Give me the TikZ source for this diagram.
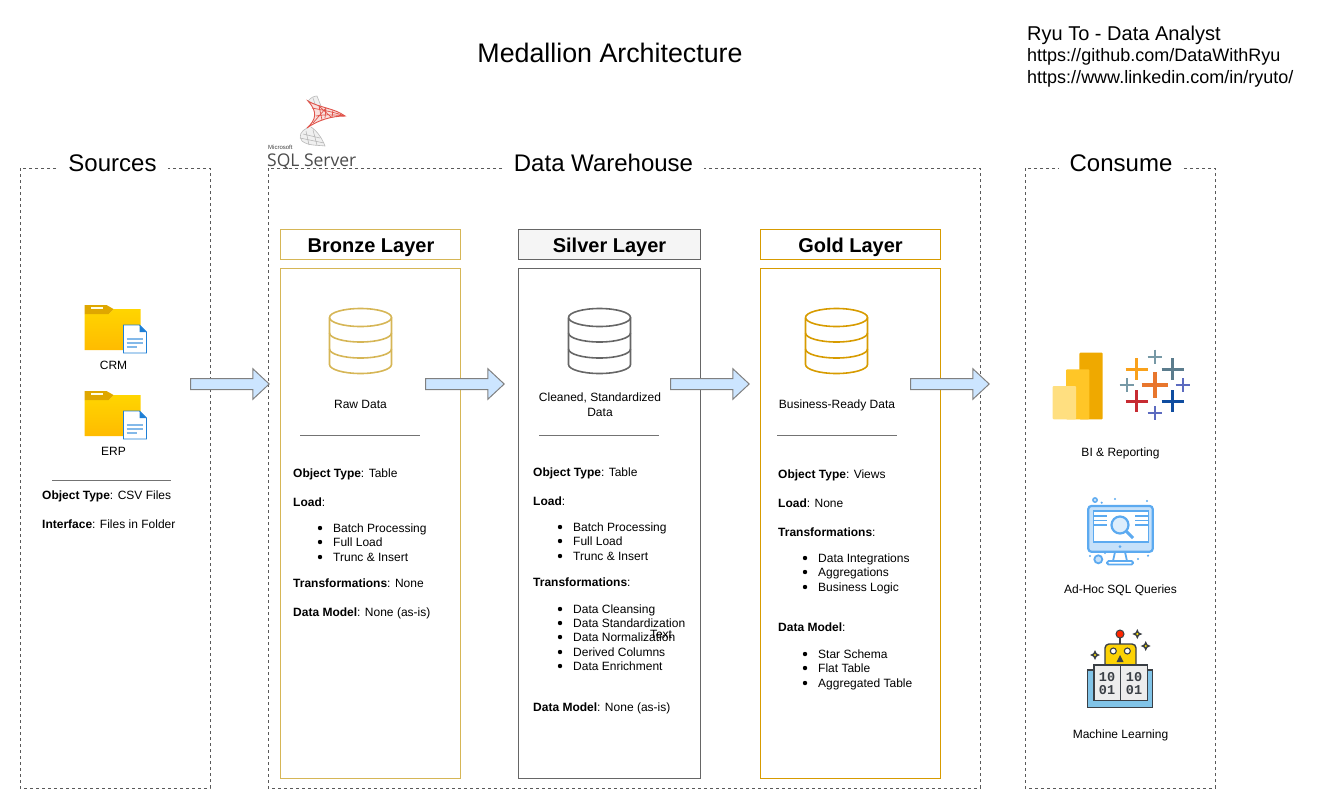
\documentclass[tikz,border=0pt]{standalone}
\usepackage{fontspec}
\setmainfont{Liberation Sans}
\setmonofont{Liberation Mono}
\newfontfamily\sqlfont{Open Sans}
\usepackage{tikz}
\usetikzlibrary{shapes.arrows}

\definecolor{bronzeline}{HTML}{D6B656}
\definecolor{silverline}{HTML}{666666}
\definecolor{goldline}{HTML}{D79B00}
\definecolor{arrowfill}{HTML}{CCE5FF}
\definecolor{monitorblue}{HTML}{5CAAF0}
\definecolor{iconink}{HTML}{3A3F45}
\definecolor{sqlred}{HTML}{E0534A}

\tikzset{
  txt/.style={anchor=base west, inner sep=0pt, font=\fontsize{12}{14}\selectfont},
  lbl/.style={anchor=base, inner sep=0pt, font=\fontsize{12}{14}\selectfont},
  group/.style={draw=black!65, line width=0.7pt, dash pattern=on 3pt off 3pt},
  grouptitle/.style={fill=white, inner xsep=11pt, inner ysep=2pt, font=\fontsize{24}{28}\selectfont},
  layertitle/.style={anchor=base, inner sep=0pt, font=\bfseries\fontsize{20}{24}\selectfont},
  rulerline/.style={draw=black!55, line width=0.8pt},
  bullet/.style={circle, fill=black, inner sep=0pt, minimum size=4.4pt},
  flow/.style={single arrow, draw=black!50, fill=arrowfill, line width=1pt, inner xsep=0pt, inner ysep=5pt,
    minimum height=78.5pt, minimum width=30pt, single arrow head extend=9.7pt,
    single arrow tip angle=86, single arrow head indent=0pt},
  % cylinder of a layer, origin in the middle of its top ellipse
  pics/dbicon/.style={code={
    \begin{scope}[line width=1.6pt]
      \draw[#1] (-31,0) arc[start angle=180, end angle=540, x radius=31, y radius=9];
      \draw[#1] (-31,0) -- (-31,47) arc[start angle=180, end angle=0, x radius=31, y radius=9] -- (31,0);
      \draw[#1] (-31,15.5) arc[start angle=180, end angle=0, x radius=31, y radius=9];
      \draw[#1] (-31,31.5) arc[start angle=180, end angle=0, x radius=31, y radius=9];
    \end{scope}
  }},
  % folder with a document on it, origin at the top left of the folder
  pics/foldericon/.style={code={
    \shade[top color=folderhigh, bottom color=folderlow]
      (0,9) -- (24,9) -- (29,4) -- (56,4) -- (56,45) -- (0,45) -- cycle;
    \fill[foldertab] (0,0) -- (22,0) -- (29,4) -- (24,9) -- (0,9) -- cycle;
    \fill[white!90!yellow] (6,2.2) rectangle (18,4);
    \draw[docblue, line width=0.9pt, fill=white]
      (39,20) -- (55,20) -- (62,27) -- (62,48) -- (39,48) -- cycle;
    \fill[docblue] (55,20) -- (62,27) -- (55,27) -- cycle;
    \foreach \k/\w in {34/58, 38/58, 42/52}
      \draw[docblue!55, line width=1.3pt] (42,\k) -- (\w,\k);
  }},
}
\definecolor{folderhigh}{HTML}{FFD500}
\definecolor{folderlow}{HTML}{FFBB00}
\definecolor{foldertab}{HTML}{DFA700}
\definecolor{docblue}{HTML}{1E7FD6}

\newcommand{\plusmark}[5]{\draw[color=#4, line width=#5pt] (#1-#3,#2) -- (#1+#3,#2) (#1,#2-#3) -- (#1,#2+#3);}
\newcommand{\sparkle}[2]{\fill[iconink] (#1,#2-5) -- (#1+1.6,#2-1.6) -- (#1+5,#2) -- (#1+1.6,#2+1.6) -- (#1,#2+5) -- (#1-1.6,#2+1.6) -- (#1-5,#2) -- (#1-1.6,#2-1.6) -- cycle;
  \fill[yellow!85!orange] (#1,#2) circle (1.2);}

\begin{document}
\begin{tikzpicture}[x=1pt, y=-1pt]
  \useasboundingbox (0,0) rectangle (1321,809);

  % headings
  \node[inner sep=0pt, font=\fontsize{26.8}{30}\selectfont] (title) at (610,53) {Medallion Architecture};
  \node[txt, font=\fontsize{20}{24}\selectfont] (author) at (1027,40) {Ryu To - Data Analyst};
  \node[txt, font=\fontsize{18}{22}\selectfont] (github) at (1027,61) {https://github.com/DataWithRyu};
  \node[txt, font=\fontsize{18}{22}\selectfont] (linkedin) at (1027,83) {https://www.linkedin.com/in/ryuto/};

  % dashed groups
  \draw[group] (20,168) rectangle (210,788);
  \draw[group] (268,168) rectangle (980,788);
  \draw[group] (1025,168) rectangle (1215,788);
  \node[grouptitle] (sources) at (112.5,163) {Sources};
  \node[grouptitle] (warehouse) at (603.5,163) {Data Warehouse};
  \node[grouptitle] (consume) at (1121,163) {Consume};

  % sql server logo
  \fill[black!6] (308,101) .. controls (311,97) and (315,96) .. (317,96) -- (321,106) -- (318,112) -- cycle;
  \draw[black!28, line width=0.6pt] (308,101) .. controls (311,97) and (315,96) .. (317,96) -- (321,106)
    (308,101) -- (318,112) (313,98) -- (316,107);
  \fill[black!6] (307,128) .. controls (301,131) and (298,136) .. (302,141) .. controls (308,146) and (318,145) .. (325,146)
    .. controls (322,138) and (317,131) .. (311,127) -- cycle;
  \draw[black!28, line width=0.6pt] (307,128) .. controls (301,131) and (298,136) .. (302,141) .. controls (308,146) and (318,145) .. (325,146)
    .. controls (322,138) and (317,131) .. (311,127)
    (303,134) -- (320,138) (300,138) -- (324,143) (306,131) -- (309,145) (313,130) -- (317,145);
  \fill[sqlred!18] (308,101) .. controls (320,108) and (334,108) .. (345,116)
    .. controls (332,116) and (318,120) .. (307,128) .. controls (316,120) and (318,112) .. (308,101) -- cycle;
  \draw[sqlred, line width=0.9pt] (308,101) .. controls (320,108) and (334,108) .. (345,116)
    .. controls (332,116) and (318,120) .. (307,128) .. controls (316,120) and (318,112) .. (308,101) -- cycle;
  \draw[sqlred, line width=0.7pt] (312,108) .. controls (322,110) and (334,112) .. (345,116)
    (316,116) .. controls (326,114) and (336,115) .. (345,116)
    (319,106) -- (322,120) (326,108) -- (325,118) (333,110) -- (332,117) (319,106) -- (331,117) (326,108) -- (313,123);
  \node[txt, font=\fontsize{6}{7}\selectfont, text=black!75] (sqlvendor) at (268,149.5) {Microsoft};
  \node[txt, font=\sqlfont\fontsize{17.5}{20}\selectfont, text=black!70] (sqlname) at (267,166) {SQL Server};

  % sources
  \pic at (84.5,305) {foldericon};
  \pic at (84.5,391) {foldericon};
  \node[lbl] (crm) at (113.5,369) {CRM};
  \node[lbl] (erp) at (113.5,455) {ERP};
  \draw[rulerline] (52,480) -- (171,480);
  \node[txt] (srctype) at (42,499) {\textbf{Object Type}: CSV Files};
  \node[txt] (srciface) at (42,528) {\textbf{Interface}: Files in Folder};

  % bronze layer
  \draw[bronzeline, line width=1pt] (280,229) rectangle (460,259);
  \draw[bronzeline, line width=1pt] (280,268) rectangle (460,778);
  \node[layertitle] (bronze) at (371,252) {Bronze Layer};
  \pic at (360.5,317.5) {dbicon=bronzeline};
  \node[lbl] (bronzeinfo) at (360.5,408) {Raw Data};
  \draw[rulerline] (300,435) -- (420,435);
  \node[txt] (bronzetype) at (293,477) {\textbf{Object Type}: Table};
  \node[txt] (bronzeload) at (293,506) {\textbf{Load}:};
  \foreach \y/\t in {528/Batch Processing, 542/Full Load, 557/Trunc \& Insert} {
    \node[bullet] (bronzedot\y) at (320,\y) {};
    \node[txt] (bronzeitem\y) at (333,\y+4) {\t};
  }
  \node[txt] (bronzetrans) at (293,587) {\textbf{Transformations}: None};
  \node[txt] (bronzemodel) at (293,616) {\textbf{Data Model}: None (as-is)};

  % silver layer
  \draw[silverline, line width=1pt, fill=black!4] (518,229) rectangle (700,259);
  \draw[silverline, line width=1pt] (518,268) rectangle (700,778);
  \node[layertitle] (silver) at (609.5,252) {Silver Layer};
  \pic at (599.5,317.5) {dbicon=silverline};
  \node[lbl] (silverinfo) at (600,401) {Cleaned, Standardized};
  \node[lbl] (silverinfob) at (600,416) {Data};
  \draw[rulerline] (539,435) -- (659,435);
  \node[txt] (silvertype) at (533,476) {\textbf{Object Type}: Table};
  \node[txt] (silverload) at (533,505) {\textbf{Load}:};
  \foreach \y/\t in {527/Batch Processing, 541/Full Load, 556/Trunc \& Insert,
                     609/Data Cleansing, 623/Data Standardization, 637/Data Normalization,
                     652/Derived Columns, 666/Data Enrichment} {
    \node[bullet] (silverdot\y) at (560,\y) {};
    \node[txt] (silveritem\y) at (573,\y+4) {\t};
  }
  \node[txt] (silvertrans) at (533,586) {\textbf{Transformations}:};
  \node[lbl] (stray) at (661,638) {Text};
  \node[txt] (silvermodel) at (533,711) {\textbf{Data Model}: None (as-is)};

  % gold layer
  \draw[goldline, line width=1pt] (760,229) rectangle (940,259);
  \draw[goldline, line width=1pt] (760,268) rectangle (940,778);
  \node[layertitle] (gold) at (850.5,252) {Gold Layer};
  \pic at (836.5,317.5) {dbicon=goldline};
  \node[lbl] (goldinfo) at (837,408) {Business-Ready Data};
  \draw[rulerline] (777,435) -- (897,435);
  \node[txt] (goldtype) at (778,478) {\textbf{Object Type}: Views};
  \node[txt] (goldload) at (778,507) {\textbf{Load}: None};
  \node[txt] (goldtrans) at (778,536) {\textbf{Transformations}:};
  \node[txt] (goldmodel) at (778,631) {\textbf{Data Model}:};
  \foreach \y/\t in {558/Data Integrations, 572/Aggregations, 587/Business Logic,
                     654/Star Schema, 668/Flat Table, 683/Aggregated Table} {
    \node[bullet] (golddot\y) at (805,\y) {};
    \node[txt] (golditem\y) at (818,\y+4) {\t};
  }

  % flow arrows
  \node[flow] (flowa) at (227,384) {};
  \node[flow] (flowb) at (462,384) {};
  \node[flow] (flowc) at (707,384) {};
  \node[flow] (flowd) at (947,384) {};

  % power bi
  \definecolor{bitall}{HTML}{EFA900}
  \definecolor{bimid}{HTML}{FFC627}
  \definecolor{bilow}{HTML}{FFDF80}
  \fill[rounded corners=1pt, bitall] (1079.3,352.7) rectangle (1102.7,419.3);
  \fill[rounded corners=1pt, bimid] (1066,369.3) rectangle (1089.3,419.3);
  \fill[rounded corners=1pt, bilow] (1052.7,386) rectangle (1076,419.3);

  % tableau
  \definecolor{tabmain}{HTML}{E8762D}
  \definecolor{tabyellow}{HTML}{F9A11B}
  \definecolor{tabslate}{HTML}{5B7C8D}
  \definecolor{tabred}{HTML}{C72B32}
  \definecolor{tabnavy}{HTML}{0F4DA0}
  \definecolor{tabgrey}{HTML}{7799A6}
  \definecolor{tabviolet}{HTML}{5C6BC0}
  \plusmark{1154.7}{385}{13}{tabmain}{4}
  \plusmark{1136.7}{369}{11}{tabyellow}{3}
  \plusmark{1172.7}{369}{11}{tabslate}{3}
  \plusmark{1136.7}{401}{11}{tabred}{3}
  \plusmark{1172.7}{401}{11}{tabnavy}{3}
  \plusmark{1154.7}{356.7}{7}{tabgrey}{2.4}
  \plusmark{1126.7}{385}{7}{tabgrey}{2.4}
  \plusmark{1182.7}{385}{7}{tabviolet}{2.4}
  \plusmark{1154.7}{413}{7}{tabviolet}{2.4}
  \node[lbl] (reporting) at (1120.5,456) {BI \& Reporting};

  % monitor
  \draw[monitorblue, line width=2.2pt, fill=monitorblue!35, rounded corners=3pt] (1088.3,506) rectangle (1152.7,551.7);
  \draw[monitorblue, line width=1.6pt, fill=white] (1093.3,510.7) rectangle (1148.3,541.7);
  \foreach \y in {516, 520.7, 525} {
    \draw[monitorblue, line width=1.3pt] (1093.3,\y) -- (1107,\y);
    \draw[monitorblue, line width=1.3pt] (1135,\y) -- (1148.3,\y);
  }
  \draw[monitorblue, line width=2.2pt, fill=monitorblue!20] (1120,525) circle (8.5);
  \draw[monitorblue, line width=3pt] (1126.5,531.5) -- (1133,538);
  \fill[monitorblue] (1120,546.7) circle (1.5);
  \draw[monitorblue, line width=1.8pt] (1115,552) -- (1113,561) (1125,552) -- (1127,561);
  \draw[monitorblue, line width=1.8pt, rounded corners=1.5pt, fill=white] (1107,561) rectangle (1133,564.5);
  \draw[monitorblue, line width=1.8pt, fill=monitorblue!35] (1098.3,559.3) circle (4);
  \draw[monitorblue, line width=1.4pt, fill=monitorblue!35] (1095,500) circle (2.2);
  \foreach \x/\y in {1115/499, 1101.7/502.7, 1147/501, 1090/556, 1138/559, 1148/555.7, 1105/553}
    \fill[monitorblue] (\x,\y) circle (1.2);
  \node[lbl] (adhoc) at (1120.5,593) {Ad-Hoc SQL Queries};

  % robot with book
  \definecolor{bookblue}{HTML}{81C4E8}
  \draw[iconink, line width=1.2pt] (1120,638) -- (1120,644);
  \draw[iconink, line width=1pt, fill=red!70!orange] (1120,634) circle (4);
  \draw[iconink, line width=1.4pt, fill=yellow!70!orange, rounded corners=4pt] (1105,644) rectangle (1136,668);
  \draw[iconink, line width=1.1pt, fill=white] (1113.3,651) circle (3);
  \draw[iconink, line width=1.1pt, fill=white] (1127.3,651) circle (3);
  \fill[iconink] (1120,655) -- (1123.5,662) -- (1116.5,662) -- cycle;
  \draw[iconink, line width=1.4pt, fill=bookblue] (1087.7,670) rectangle (1152.7,707.3);
  \draw[iconink, line width=1.4pt, fill=black!7] (1094,665) rectangle (1147.3,700.7);
  \draw[iconink, line width=1.4pt] (1120.5,665) -- (1120.5,700.7);
  \foreach \x/\t in {1107/a, 1134/b} {
    \node[inner sep=0pt, font=\ttfamily\bfseries\fontsize{13.5}{14}\selectfont, text=iconink] (bits\t one) at (\x,677) {10};
    \node[inner sep=0pt, font=\ttfamily\bfseries\fontsize{13.5}{14}\selectfont, text=iconink] (bits\t two) at (\x,690) {01};
  }
  \sparkle{1137.3}{634}
  \sparkle{1145.7}{646}
  \sparkle{1095}{655}
  \node[lbl] (learning) at (1120.5,738) {Machine Learning};
\end{tikzpicture}
\end{document}
